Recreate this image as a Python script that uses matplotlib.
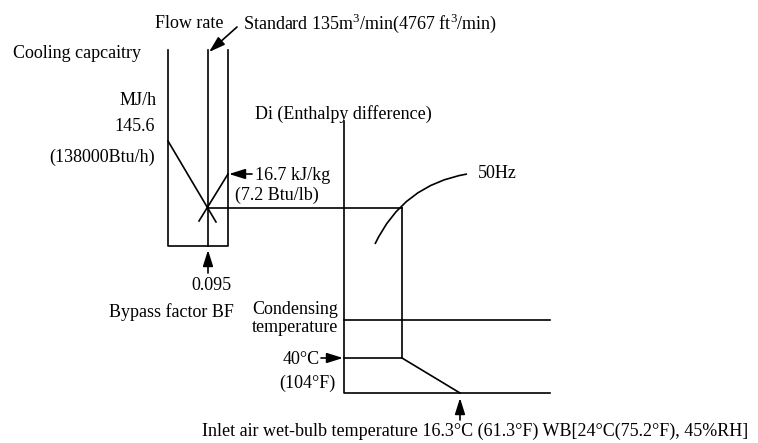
import matplotlib.pyplot as plt
from matplotlib.path import Path
from matplotlib.patches import PathPatch

# diagram geometry (pixel units of the schematic, y grows downward)
box_x = [168, 208, 228]          # left edge, flow-rate line, right edge
box_top, box_bottom = 50, 246
bf_point = (208, 208)            # bypass factor operating point
cap_line = [(168, 141), (216, 222)]
enth_line = [(228, 174), (199, 221)]
di_x = 344
di_top, di_bottom = 121, 393
op_x = 402                       # 50Hz operating point
cond_y = 320                     # condensing temperature level
t40_y = 358                      # 40C level
wb_x = 460                       # inlet wet-bulb point
right_end = 550
curve_50hz = [(375, 244), (403, 185), (467, 174)]

labels = [
    ("Flow rate", 155, 23, "left"),
    ("Standard 135m$^3$/min(4767 ft$^3$/min)", 243, 23, "left"),
    ("Cooling capcaitry", 13, 53, "left"),
    ("MJ/h", 157, 100, "right"),
    ("145.6", 155, 126, "right"),
    ("(138000Btu/h)", 155, 157, "right"),
    ("16.7 kJ/kg", 255, 175, "left"),
    ("(7.2 Btu/lb)", 235, 195, "left"),
    ("Di (Enthalpy difference)", 255, 114, "left"),
    ("50Hz", 478, 174, "left"),
    ("0.095", 211, 285, "center"),
    ("Bypass factor BF", 109, 312, "left"),
    ("Condensing", 338, 310, "right"),
    ("temperature", 338, 328, "right"),
    ("40°C", 320, 359, "right"),
    ("(104°F)", 335, 383, "right"),
    ("Inlet air wet-bulb temperature 16.3°C (61.3°F) WB[24°C(75.2°F), 45%RH]", 202, 431, "left"),
]

plt.rcParams['font.family'] = ['Liberation Serif', 'DejaVu Serif']
plt.rcParams['mathtext.fontset'] = 'custom'
plt.rcParams['mathtext.rm'] = 'Liberation Serif'

fig = plt.figure(figsize=(7.58, 4.43), dpi=100)
ax = fig.add_axes([0, 0, 1, 1])
ax.set_xlim(0, 758)
ax.set_ylim(443, 0)
ax.axis('off')

lw = 1.2
k = 'black'

# box with flow rate line
ax.plot([box_x[0], box_x[0], box_x[2], box_x[2]], [box_top, box_bottom, box_bottom, box_top], color=k, lw=lw)
ax.plot([box_x[1], box_x[1]], [box_top, box_bottom], color=k, lw=lw)
ax.plot(*zip(*cap_line), color=k, lw=lw)
ax.plot(*zip(*enth_line), color=k, lw=lw)

# horizontal from BF point to operating point
ax.plot([bf_point[0], op_x], [bf_point[1], bf_point[1]], color=k, lw=lw)

# Di axis, condensing line, 40C line, bottom
ax.plot([di_x, di_x, right_end], [di_top, di_bottom, di_bottom], color=k, lw=lw)
ax.plot([di_x, right_end], [cond_y, cond_y], color=k, lw=lw)
ax.plot([di_x, op_x, op_x], [t40_y, t40_y, bf_point[1]], color=k, lw=lw)
ax.plot([op_x, wb_x], [t40_y, di_bottom], color=k, lw=lw)

# 50Hz curve
path = Path(curve_50hz, [Path.MOVETO, Path.CURVE3, Path.CURVE3])
ax.add_patch(PathPatch(path, fill=False, color=k, lw=lw))

# arrows
arr = dict(arrowstyle='-|>,head_length=0.7,head_width=0.22', color=k, lw=lw,
           mutation_scale=14, shrinkA=0, shrinkB=0)
ax.annotate('', xy=(209, 52), xytext=(237, 27), arrowprops=arr)
ax.annotate('', xy=(box_x[2] + 1, 174), xytext=(252, 174), arrowprops=arr)
ax.annotate('', xy=(box_x[1], 250), xytext=(box_x[1], 273), arrowprops=arr)
ax.annotate('', xy=(di_x - 1, t40_y), xytext=(321, t40_y), arrowprops=arr)
ax.annotate('', xy=(wb_x, 398), xytext=(wb_x, 420), arrowprops=arr)

for s, x, y, ha in labels:
    ax.text(x, y, s, ha=ha, va='center', fontsize=13, color=k)

fig.savefig('out.png', dpi=100)
